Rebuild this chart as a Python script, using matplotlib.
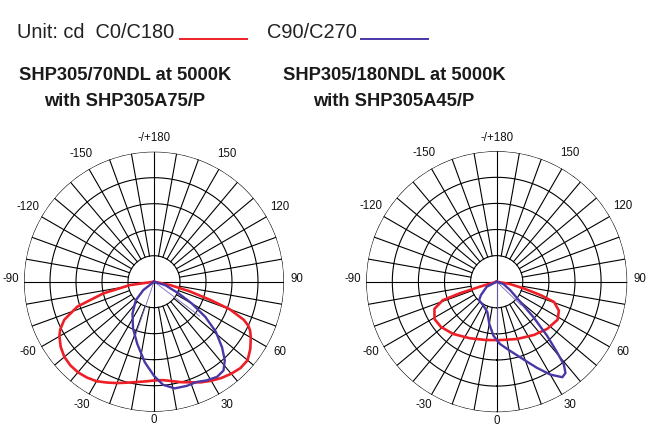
import numpy as np
import matplotlib
matplotlib.use("Agg")
import matplotlib.pyplot as plt
from matplotlib.lines import Line2D
from matplotlib.transforms import offset_copy

# ---------------- data (angle in degrees, intensity in ring units) ----------------
left_red_theta = [-90, -82, -77, -72, -67, -63, -60, -55, -50, -45, -40, -35, -30, -25, -20,
                  -15, -10, -5, 0, 5, 10, 15, 20, 25, 30, 35, 40, 45, 50, 55, 60, 63, 65,
                  67, 70, 72, 75, 78, 90]
left_red_r = [0, 0.94, 2.0, 3.1, 3.75, 4.05, 4.2, 4.38, 4.5, 4.55, 4.55, 4.5, 4.42, 4.28, 4.15,
              4.02, 3.92, 3.85, 3.8, 3.8, 3.88, 4.0, 4.12, 4.27, 4.4, 4.52, 4.62, 4.7, 4.7,
              4.52, 4.3, 4.15, 4.0, 3.75, 3.1, 2.3, 1.4, 0.65, 0]

left_blue_theta = [-65, -52, -44.5, -34, -24, -15, -6.5, 0, 5, 11, 17.5, 23, 28, 33.5, 38,
                   42, 46, 51, 55.5, 60, 64.5, 73, 85]
left_blue_r = [0, 0.52, 1.0, 1.48, 1.98, 2.48, 3.12, 3.62, 3.98, 4.18, 4.2, 4.19, 4.3, 4.39,
               4.34, 4.07, 3.64, 3.06, 2.40, 1.68, 1.05, 0.45, 0]

# thin connector strokes from the centre (angle, reach)
left_thin_theta = [-19, 53]
left_thin_r = [2.2, 2.2]

right_red_theta = [-90, -73.5, -72.5, -71, -66.5, -59, -51, -40, -25.5, -10, 3, 19.5, 35, 47,
                   58, 65, 70.5, 73, 76, 80, 90]
right_red_r = [0, 0.67, 1.49, 2.19, 2.6, 2.78, 2.75, 2.61, 2.4, 2.27, 2.24, 2.33, 2.49, 2.65,
               2.75, 2.63, 2.33, 1.76, 1.07, 0.52, 0]

right_blue_theta = [-75, -63, -49.5, -43.5, -30, -17, -10, -3.5, 3, 11, 19, 25, 30, 34.5, 37,
                    39, 40.5, 43, 46, 49.5, 58, 71, 80]
right_blue_r = [0, 0.43, 0.80, 0.98, 1.04, 1.22, 1.64, 2.07, 2.39, 2.70, 3.15, 3.64, 4.11,
                4.44, 4.38, 4.09, 3.57, 2.83, 1.96, 1.19, 0.61, 0.27, 0]

right_thin_theta = [0, 46]
right_thin_r = [2.0, 1.3]

angle_ticks = [180, 150, 120, 90, 60, 30, 0, -30, -60, -90, -120, -150]
angle_labels = ['-/+180', '150', '120', '90', '60', '30', '0', '-30', '-60', '-90', '-120', '-150']
ring_values = [1, 2, 3, 4, 5]

title_left = ['SHP305/70NDL at 5000K', 'with SHP305A75/P']
title_right = ['SHP305/180NDL at 5000K', 'with SHP305A45/P']
legend_unit = 'Unit: cd  C0/C180'
legend_c90 = 'C90/C270'

RED = '#ee1f26'
BLUE = '#4a37a6'
THIN = '#7868c0'

W, H = 661, 433
fig = plt.figure(figsize=(W / 100, H / 100), dpi=100)
fig.patch.set_facecolor('white')

REG = ['Liberation Sans', 'DejaVu Sans']


def px(x, y):
    return x / W, 1 - y / H


def make_polar(cx, cy, rad, red_t, red_r, blue_t, blue_r, thin_t, thin_r):
    l, b = px(cx - rad, cy + rad)
    ax = fig.add_axes([l, b, 2 * rad / W, 2 * rad / H], projection='polar')
    ax.set_theta_zero_location('S')
    ax.set_theta_direction(1)
    ax.set_ylim(0, ring_values[-1])
    ax.axis('off')
    full = np.linspace(0, 2 * np.pi, 721)
    for rv in ring_values:
        ax.plot(full, np.full_like(full, rv), color='black', lw=0.8, zorder=1)
    for a in range(0, 360, 10):
        r0 = 0 if a % 90 == 0 else ring_values[0]
        ax.plot([np.deg2rad(a)] * 2, [r0, ring_values[-1]], color='black', lw=0.8, zorder=1)
    lab_tr = offset_copy(ax.transData, fig=fig, x=0, y=2.5, units='dots')
    for a, lab in zip(angle_ticks, angle_labels):
        if a % 180 == 0:
            rr = 5.42
        elif abs(a) == 90:
            rr = 5.5
        else:
            rr = 5.58
        ax.text(np.deg2rad(a), rr, lab, ha='center', va='center', fontsize=8.3,
                family=REG, color='#111111', clip_on=False, transform=lab_tr)
    for t, r in zip(thin_t, thin_r):
        ax.plot([np.deg2rad(t)] * 2, [0, r], color=THIN, lw=0.6, zorder=2)
    ax.plot(np.deg2rad(red_t), red_r, color=RED, lw=1.9, zorder=3, solid_joinstyle='round')
    ax.plot(np.deg2rad(blue_t), blue_r, color=BLUE, lw=1.7, zorder=4, solid_joinstyle='round')
    return ax


make_polar(154, 281.7, 130, left_red_theta, left_red_r, left_blue_theta, left_blue_r,
           left_thin_theta, left_thin_r)
make_polar(496.7, 281.7, 130.5, right_red_theta, right_red_r, right_blue_theta, right_blue_r,
           right_thin_theta, right_thin_r)

# legend line
fig.text(*px(17, 33), legend_unit, ha='left', va='center', fontsize=14.4, family=REG,
         color='#222222')
fig.text(*px(267, 33), legend_c90, ha='left', va='center', fontsize=14.4, family=REG,
         color='#222222')
fig.add_artist(Line2D([180 / W, 247 / W], [1 - 39.3 / H] * 2, color=RED, lw=1.4))
fig.add_artist(Line2D([361 / W, 428 / W], [1 - 39.3 / H] * 2, color=BLUE, lw=1.4))

# titles
for (cx, lines) in [(125, title_left), (394, title_right)]:
    fig.text(*px(cx, 75.5), lines[0], ha='center', va='center', fontsize=13.2,
             fontweight='bold', family=REG, color='#1a1a1a')
    fig.text(*px(cx, 101.7), lines[1], ha='center', va='center', fontsize=13.2,
             fontweight='bold', family=REG, color='#1a1a1a')

fig.savefig('out.png', dpi=100, facecolor='white')
